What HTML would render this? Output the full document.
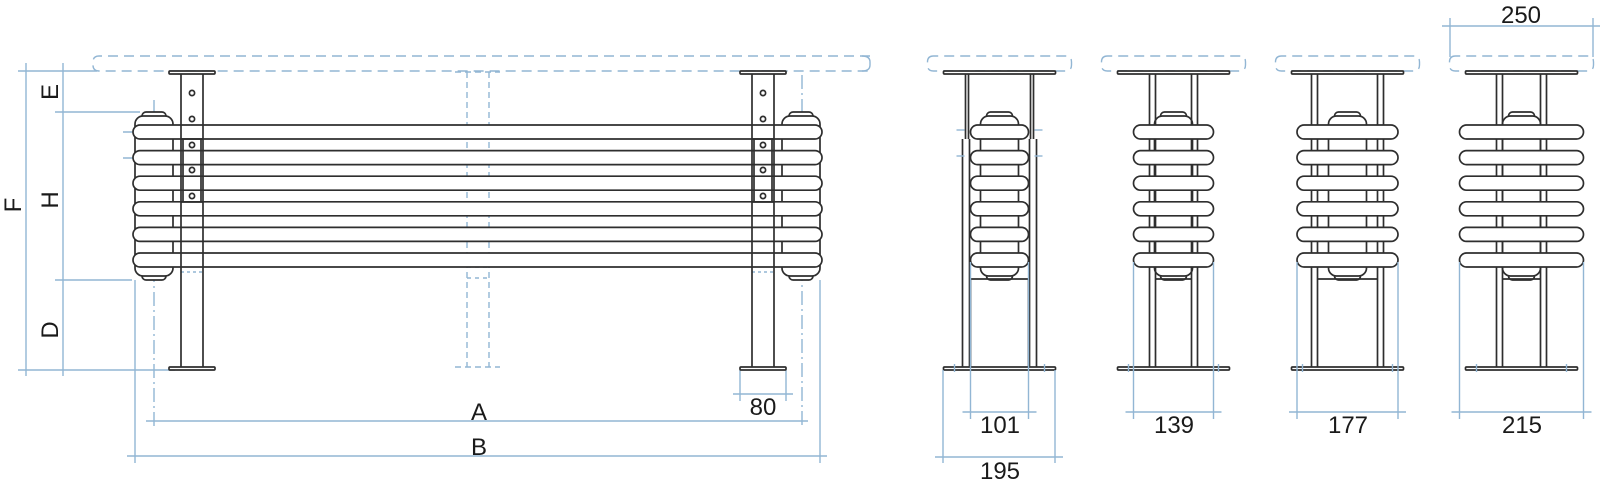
<!DOCTYPE html>
<html><head><meta charset="utf-8"><style>
html,body{margin:0;padding:0;background:#fff;width:1600px;height:484px;overflow:hidden}
svg{display:block}
text{font-family:"Liberation Sans",sans-serif;fill:#1a1a1a;font-size:24px}
</style></head><body>
<svg id="s" width="1600" height="484" viewBox="0 0 1600 484" xmlns="http://www.w3.org/2000/svg">
<g id="g" fill="none" stroke-linejoin="round"></g>
<text x="479" y="420" text-anchor="middle">A</text>
<text x="479" y="455" text-anchor="middle">B</text>
<text x="763" y="415" text-anchor="middle">80</text>
<text x="1000" y="433" text-anchor="middle">101</text>
<text x="1000" y="479" text-anchor="middle">195</text>
<text x="1174" y="433" text-anchor="middle">139</text>
<text x="1348" y="433" text-anchor="middle">177</text>
<text x="1522" y="433" text-anchor="middle">215</text>
<text x="1521" y="23" text-anchor="middle">250</text>
<text transform="translate(21,205) rotate(-90)" text-anchor="middle">F</text>
<text transform="translate(58,92) rotate(-90)" text-anchor="middle">E</text>
<text transform="translate(58,200) rotate(-90)" text-anchor="middle">H</text>
<text transform="translate(58,330) rotate(-90)" text-anchor="middle">D</text>
</svg>
<script>
var o='';
var B='stroke="#92b6d4" stroke-width="1.4"', K='stroke="#2e2e2e" stroke-width="1.7"';
function L(x1,y1,x2,y2,a,ex){o+='<line x1="'+x1+'" y1="'+y1+'" x2="'+x2+'" y2="'+y2+'" '+a+(ex||'')+'/>';}
function R(x,y,w,h,a,rx,fill,ex){o+='<rect x="'+x+'" y="'+y+'" width="'+w+'" height="'+h+'" rx="'+(rx||0)+'" fill="'+(fill||'none')+'" '+a+(ex||'')+'/>';}
var D=' stroke-dasharray="10 6"', DD=' stroke-dasharray="14 4 2 4"';
var tops=[125,150.6,176.2,201.8,227.4,253], th=14;
o+='<path d="M870 56 H99 Q93 56 93 62 V65 Q93 71 99 71 H870" '+B+D+'/>';
o+='<path d="M862 56 Q870 56 870 62 V65 Q870 71 862 71" '+B+'/>';
L(18,71,97,71,B);L(18,370,175,370,B);
L(26,63,26,376,B);L(63,63,63,376,B);
L(55,112,140,112,B);L(55,280,132,280,B);
L(123,132,180,132,B);L(123,158,180,158,B);
L(135,280,135,463,B);L(154,100,154,429,B,DD);
L(802,75,802,429,B,DD);L(820,280,820,463,B);
L(146,421,808,421,B);L(127,456,827,456,B);
L(733,394,793,394,B);L(740,370,740,401,B);L(786,370,786,401,B);
L(467,72,467,367,B,' stroke-dasharray="6 4"');L(489,72,489,367,B,' stroke-dasharray="6 4"');
L(455,72,500,72,B,' stroke-dasharray="6 4"');L(455,367,500,367,B,' stroke-dasharray="6 4"');
L(467,267,489,267,B,' stroke-dasharray="4 4"');L(467,278,489,278,B,' stroke-dasharray="4 4"');
L(181,272,203,272,B,' stroke-dasharray="3 3"');L(752,272,774,272,B,' stroke-dasharray="3 3"');
function hdr(x){R(x+7,112,24,8,K,4,'#fff');R(x+7,272,24,8,K,4,'#fff');R(x,116,38,160,K,8,'#fff');}
hdr(135);hdr(782);
tops.forEach(function(t){R(133,t,689,th,K,7,'#fff');});
function leg(x){R(x-12,71,46,3,K,1,'#fff');R(x-12,367,46,3,K,1,'#fff');L(x,74,x,367,K);L(x+22,74,x+22,367,K);
 L(x+2,139,x+2,202,K);L(x+20,139,x+20,202,K);L(x,139,x+22,139,K);L(x,202,x+22,202,K);
 [93,119,145,170,196].forEach(function(y){o+='<circle cx="'+(x+11)+'" cy="'+y+'" r="2.6" fill="#fff" '+K+' stroke-width="1"/>';});}
leg(181);leg(752);
var V=[[999.5,58,30,37],[1173.5,80,18,24],[1347.5,101,30,36],[1521.5,124,19,25]];
V.forEach(function(v,i){var c=v[0],w=v[1],a=v[2],b=v[3];
 o+='<path d="M'+(c-66)+' 56 Q'+(c-72)+' 56 '+(c-72)+' 62 V65 Q'+(c-72)+' 71 '+(c-66)+' 71 H'+(c+66)+' Q'+(c+72)+' 71 '+(c+72)+' 65 V62 Q'+(c+72)+' 56 '+(c+66)+' 56 H'+(c-66)+'" '+B+D+'/>';
 R(c-56,71,112,3,K,1,'#fff');R(c-56,367,112,3,K,1,'#fff');
 R(c-13,112,26,8,K,4,'#fff');R(c-13,272,26,8,K,4,'#fff');R(c-19,116,38,160,K,8,'#fff');
 if(i==0){L(c-29,279,c+29,279,K);}else{L(c-a,279,c+a,279,K);}
 [-1,1].forEach(function(s){
   if(i==0){L(c+s*31,74,c+s*31,139,K);L(c+s*34,74,c+s*34,139,K);L(c+s*30,139,c+s*30,367,K);L(c+s*37,139,c+s*37,367,K);L(c+s*29,279,c+s*29,367,K);}
   else{L(c+s*a,74,c+s*a,367,K);L(c+s*b,74,c+s*b,367,K);}
   L(c+s*(b-2),130,c+s*(b+6),130,B);L(c+s*(b-2),156,c+s*(b+6),156,B);
   L(c+s*45,364,c+s*45,372,B);});
 tops.forEach(function(t){R(c-w/2,t,w,th,K,7,'#fff');});
 L(c-w/2,262,c-w/2,419,B);L(c+w/2,262,c+w/2,419,B);L(c-w/2-8,412,c+w/2+8,412,B);
});
L(943,370,943,463,B);L(1055,370,1055,463,B);L(935,457,1063,457,B);
L(1450,18,1450,57,B);L(1593,18,1593,57,B);L(1442,26,1601,26,B);
document.getElementById('g').innerHTML=o;
</script>
</body></html>
